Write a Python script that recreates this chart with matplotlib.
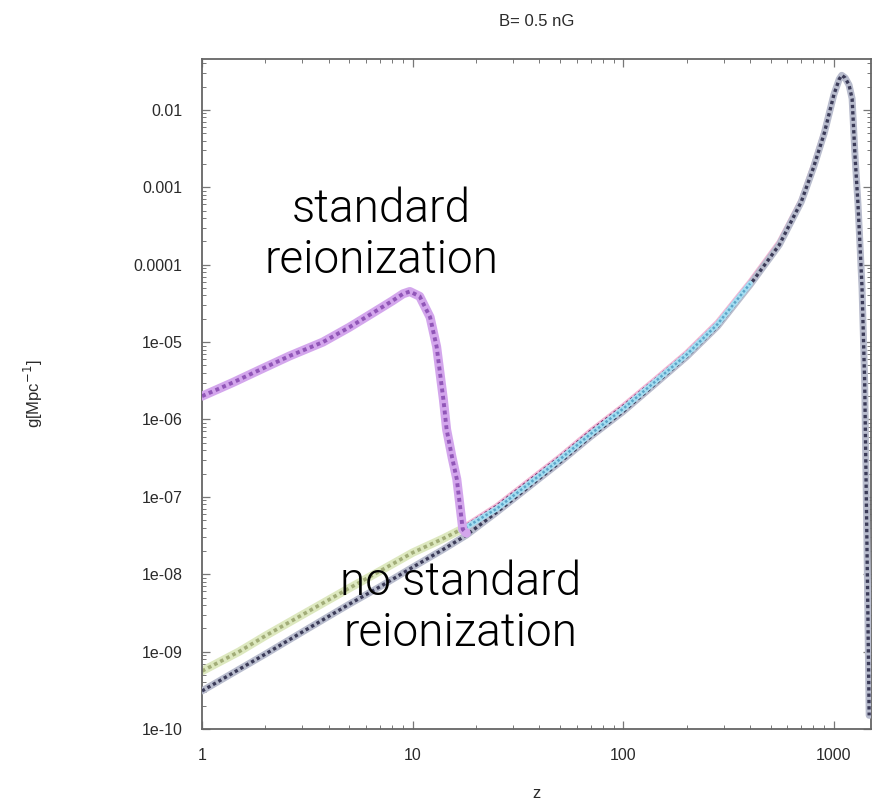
import matplotlib
matplotlib.use("Agg")
import matplotlib.pyplot as plt
from matplotlib.ticker import LogLocator, NullFormatter, FixedLocator, FixedFormatter
from matplotlib import font_manager

# ---- data -------------------------------------------------------------
# visibility function g(z) with standard reionization (low-z branch)
z_std = [1.0, 1.4, 1.82, 2.6, 3.75, 5.0, 6.5, 8.0, 9.0, 9.7, 10.8, 12.1, 13.0,
         14.0, 14.5, 15.4, 16.2, 17.3, 18.0]
g_std = [2.0e-6, 3.0e-6, 4.2e-6, 6.6e-6, 1.0e-5, 1.55e-5, 2.4e-5, 3.4e-5,
         4.2e-5, 4.5e-5, 3.9e-5, 2.1e-5, 8.7e-6, 1.8e-6, 7.4e-7, 3.2e-7,
         1.7e-7, 3.8e-8, 3.4e-8]

# no standard reionization, low-z branch (light green)
z_low = [1.0, 1.5, 2.0, 3.0, 5.0, 7.0, 10.0, 14.0, 18.0]
g_low = [5.6e-10, 1.0e-9, 1.6e-9, 3.0e-9, 6.6e-9, 1.1e-8, 1.9e-8, 2.9e-8, 4.1e-8]

# no standard reionization, full range (dark)
z_main = [1.0, 1.5, 2.0, 3.0, 5.0, 7.0, 10.0, 14.0, 18.0, 25.0, 35.0, 50.0,
          70.0, 100.0, 140.0, 200.0, 280.0, 400.0, 550.0, 700.0, 800.0, 900.0,
          1000.0, 1060.0, 1090.0, 1130.0, 1180.0, 1220.0, 1260.0, 1300.0,
          1330.0, 1360.0, 1400.0, 1430.0, 1450.0, 1470.0]
g_main = [3.1e-10, 5.9e-10, 9.3e-10, 1.8e-9, 4.1e-9, 6.9e-9, 1.23e-8, 2.1e-8,
          3.2e-8, 6.3e-8, 1.3e-7, 2.8e-7, 6.0e-7, 1.27e-6, 2.8e-6, 6.5e-6,
          1.6e-5, 5.5e-5, 1.8e-4, 6.5e-4, 1.8e-3, 5.0e-3, 1.58e-2, 2.5e-2,
          2.8e-2, 2.6e-2, 2.1e-2, 1.4e-2, 2.5e-3, 6.3e-4, 1.8e-4, 5.0e-5,
          3.0e-6, 5.0e-8, 3.0e-9, 1.5e-10]

# magnetic-field runs (upper edge, pink)
z_mag = [17.3, 25.0, 35.0, 50.0, 70.0, 100.0, 140.0, 200.0, 280.0, 400.0,
         550.0, 700.0, 800.0, 900.0, 1000.0, 1060.0, 1090.0, 1130.0, 1180.0,
         1220.0, 1260.0, 1300.0, 1330.0, 1360.0, 1400.0, 1430.0, 1450.0, 1470.0]
g_mag = [4.0e-8, 7.6e-8, 1.55e-7, 3.3e-7, 7.1e-7, 1.5e-6, 3.2e-6, 7.3e-6,
         1.8e-5, 6.0e-5, 1.95e-4, 6.8e-4, 1.9e-3, 5.2e-3, 1.6e-2, 2.5e-2,
         2.8e-2, 2.6e-2, 2.1e-2, 1.4e-2, 2.5e-3, 6.3e-4, 1.8e-4, 5.0e-5,
         3.0e-6, 5.0e-8, 3.0e-9, 1.5e-10]

# intermediate run (light blue)
z_mid = [17.0, 25.0, 35.0, 50.0, 70.0, 100.0, 140.0, 200.0, 280.0, 400.0]
g_mid = [3.7e-8, 7.0e-8, 1.42e-7, 3.05e-7, 6.5e-7, 1.38e-6, 3.0e-6, 6.9e-6,
         1.7e-5, 5.7e-5]

y_ticks = [1e-10, 1e-9, 1e-8, 1e-7, 1e-6, 1e-5, 1e-4, 1e-3, 1e-2]
y_labels = ["1e-10", "1e-09", "1e-08", "1e-07", "1e-06", "1e-05",
            "0.0001", "0.001", "0.01"]
x_ticks = [1, 10, 100, 1000]
x_labels = ["1", "10", "100", "1000"]

title = "B= 0.5 nG"
ann_std = "standard\nreionization"
ann_nostd = "no standard\nreionization"

# ---- fonts ------------------------------------------------------------
def pick_light_font():
    wanted = ["Roboto", "Open Sans", "Lato", "Inter", "Noto Sans"]
    for fam in wanted:
        for fe in font_manager.fontManager.ttflist:
            if fe.name == fam and fe.style == "normal" and fe.weight in (300, "light"):
                return font_manager.FontProperties(fname=fe.fname)
    return font_manager.FontProperties(family="Liberation Sans")

ann_font = pick_light_font()
plt.rcParams["font.family"] = ["Liberation Sans", "DejaVu Sans"]

# ---- figure -----------------------------------------------------------
fig = plt.figure(figsize=(8.83, 8.07), dpi=100)
ax = fig.add_axes([202 / 883, 1 - 729 / 807, (871 - 202) / 883, (729 - 59) / 807])
ax.set_xscale("log")
ax.set_yscale("log")
ax.set_xlim(1, 1500)
ax.set_ylim(1e-10, 0.0455)


def dotted(x, y, light, dark, lw_light=6.0, lw_dark=2.6, z=2):
    ax.plot(x, y, color=light, lw=lw_light, solid_capstyle="round", zorder=z)
    ax.plot(x, y, color=dark, lw=lw_dark, dashes=(1.0, 0.9), zorder=z + 0.1)


dotted(z_low, g_low, "#dde8bf", "#a2ad78", z=2)
dotted(z_main, g_main, "#b8bccd", "#3b3b58", lw_light=5.0, lw_dark=2.4, z=3)
dotted(z_mag, g_mag, "#f2b8d6", "#7a2e6a", lw_light=4.0, lw_dark=2.0, z=2.5)
dotted(z_mid, g_mid, "#a6def2", "#5aa5c8", lw_light=4.0, lw_dark=1.8, z=3.5)
dotted(z_std, g_std, "#d3a6ec", "#9156b8", lw_light=6.5, lw_dark=2.8, z=4)

# axes styling (inward ticks on all sides)
for sp in ax.spines.values():
    sp.set_color("#666666")
    sp.set_linewidth(1.3)
ax.yaxis.set_major_locator(FixedLocator(y_ticks))
ax.yaxis.set_major_formatter(FixedFormatter(y_labels))
ax.xaxis.set_major_locator(FixedLocator(x_ticks))
ax.xaxis.set_major_formatter(FixedFormatter(x_labels))
ax.xaxis.set_minor_locator(LogLocator(base=10, subs=range(2, 10), numticks=20))
ax.yaxis.set_minor_locator(LogLocator(base=10, subs=range(2, 10), numticks=20))
ax.xaxis.set_minor_formatter(NullFormatter())
ax.yaxis.set_minor_formatter(NullFormatter())
ax.tick_params(which="both", direction="in", top=True, right=True,
               color="#777777")
ax.tick_params(which="major", length=6, width=0.9, labelsize=11.5,
               labelcolor="#2a2a2a", pad=14)
ax.tick_params(which="minor", length=3, width=0.7)

ax.set_xlabel("z", fontsize=12, color="#2a2a2a", labelpad=16)
ax.set_ylabel(r"g[Mpc$^{-1}$]", fontsize=12, color="#2a2a2a")
ax.yaxis.set_label_coords((45 - 202) / 669, 0.5)
fig.text((202 + 871) / 2 / 883, 1 - 22 / 807, title, ha="center",
         va="center", fontsize=12, color="#2a2a2a")

ax.text(10 ** 0.85, 10 ** -3.61, ann_std, ha="center", va="center",
        fontproperties=ann_font, fontsize=33, color="black",
        linespacing=1.2, zorder=6)
ax.text(10 ** 1.229, 10 ** -8.43, ann_nostd, ha="center", va="center",
        fontproperties=ann_font, fontsize=33, color="black",
        linespacing=1.2, zorder=6)

fig.savefig("out.png", dpi=100, facecolor="white")
